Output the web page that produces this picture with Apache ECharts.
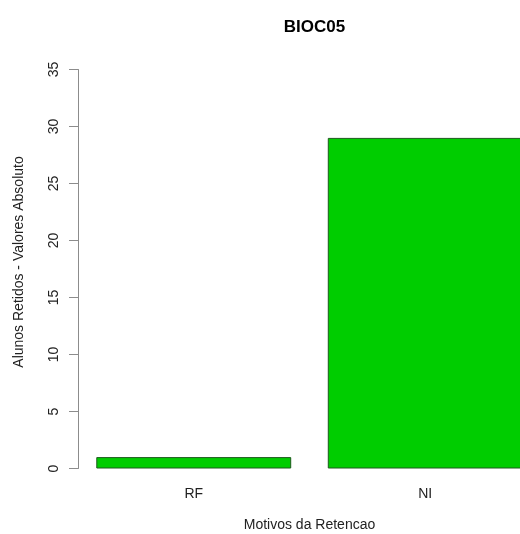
<!DOCTYPE html>
<html>
<head>
<meta charset="utf-8">
<script src="https://cdn.jsdelivr.net/npm/echarts@6/dist/echarts.min.js"></script>
<style>html,body{margin:0;padding:0;background:#fff}#c{width:520px;height:534px}</style>
</head>
<body>
<div id="c"></div>
<script>
const categories = ['RF', 'NI'];
const values = [1, 29];
const yTicks = [0, 5, 10, 15, 20, 25, 30, 35];

const chart = echarts.init(document.getElementById('c'), null, {renderer: 'canvas'});
const font = 'Liberation Sans, Arial, Helvetica, sans-serif';
chart.setOption({
  animation: false,
  backgroundColor: '#ffffff',
  title: {
    text: 'BIOC05',
    left: 309.5, top: 14, textAlign: 'center',
    textStyle: {fontFamily: font, fontWeight: 'bold', fontSize: 17, color: '#000'}
  },
  grid: {left: 78, top: 69.5, width: 463, height: 399, containLabel: false, outerBoundsMode: 'none'},
  xAxis: {
    type: 'category',
    data: categories,
    axisLine: {show: false},
    axisTick: {show: false},
    axisLabel: {margin: 19, fontFamily: font, fontSize: 14, color: '#222'},
    name: 'Motivos da Retencao',
    nameLocation: 'middle',
    nameGap: 50,
    nameTextStyle: {fontFamily: font, fontSize: 14, color: '#222'}
  },
  yAxis: {
    type: 'value',
    min: yTicks[0], max: yTicks[yTicks.length - 1], interval: 5,
    splitLine: {show: false},
    axisLine: {show: true, lineStyle: {color: '#8c8c8c', width: 1}},
    axisTick: {show: true, length: 9, lineStyle: {color: '#8c8c8c', width: 1}},
    axisLabel: {rotate: 90, margin: 17, fontFamily: font, fontSize: 14, color: '#222'},
    name: 'Alunos Retidos - Valores Absoluto',
    nameLocation: 'middle',
    nameGap: 52,
    nameRotate: 90,
    nameTextStyle: {fontFamily: font, fontSize: 14, color: '#222', padding: [0, 0, 0, 14]}
  },
  series: [{
    type: 'bar',
    data: values,
    barWidth: '84.2%',
    itemStyle: {color: '#00cd00', borderColor: '#1e5a1e', borderWidth: 1}
  }]
});
</script>
</body>
</html>
